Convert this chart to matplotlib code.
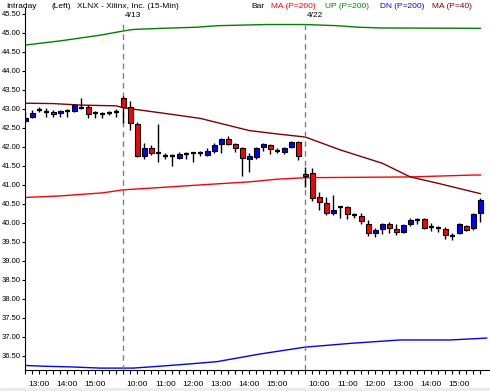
import numpy as np
import matplotlib.pyplot as plt
from matplotlib.patches import Rectangle

plt.rcParams['font.family'] = ['Liberation Sans', 'DejaVu Sans']

# 15-min bars, XLNX
opens = [42.68, 42.77, 42.95, 42.92, 42.92, 42.87, 42.94, 42.94, 43.02, 43.05,
         42.87, 42.86, 42.89, 42.91, 43.27, 43.03, 42.59, 41.76, 41.95, 41.82,
         41.75, 41.74, 41.71, 41.81, 41.82, 41.82, 41.79, 41.89, 42.07, 42.19,
         42.06, 41.97, 41.66, 41.73, 41.98, 42.04, 41.89, 41.86, 41.98, 42.11,
         41.28, 41.31, 40.66, 40.52, 40.24, 40.42, 40.42, 40.20, 40.17, 39.96,
         39.73, 39.82, 39.95, 39.82, 39.75, 39.95, 40.07, 40.09, 39.89, 39.86,
         39.83, 39.65, 39.72, 39.92, 39.85, 40.24]
highs = [42.92, 42.95, 43.05, 43.01, 42.96, 42.95, 43.00, 43.12, 43.28, 43.09,
         42.94, 42.92, 42.94, 43.00, 43.32, 43.20, 42.64, 42.09, 42.04, 42.59,
         41.82, 41.80, 41.86, 41.85, 41.84, 41.88, 41.95, 42.08, 42.23, 42.28,
         42.08, 42.00, 41.82, 41.99, 42.08, 42.07, 41.95, 41.98, 42.15, 42.14,
         41.47, 41.43, 40.81, 40.68, 40.72, 40.44, 40.43, 40.26, 40.24, 40.07,
         39.85, 39.99, 40.02, 39.95, 39.96, 40.11, 40.13, 40.11, 39.98, 39.92,
         39.89, 39.73, 39.98, 39.94, 40.25, 40.65]
lows = [42.64, 42.74, 42.90, 42.79, 42.79, 42.79, 42.79, 42.92, 42.98, 42.76,
        42.76, 42.74, 42.83, 42.79, 42.61, 42.44, 41.73, 41.67, 41.78, 41.58,
        41.67, 41.49, 41.66, 41.66, 41.58, 41.75, 41.76, 41.82, 41.82, 42.04,
        41.86, 41.22, 41.34, 41.68, 41.89, 41.80, 41.82, 41.80, 41.95, 41.64,
        40.93, 40.57, 40.33, 40.20, 40.20, 40.11, 40.08, 40.11, 39.95, 39.64,
        39.61, 39.71, 39.73, 39.67, 39.72, 39.91, 39.95, 39.84, 39.79, 39.76,
        39.58, 39.54, 39.69, 39.78, 39.81, 40.02]
closes = [42.76, 42.87, 42.95, 42.92, 42.85, 42.93, 42.94, 43.08, 43.02, 42.85,
          42.87, 42.86, 42.89, 42.91, 43.05, 42.61, 41.76, 41.95, 41.82, 41.82,
          41.75, 41.74, 41.81, 41.81, 41.82, 41.82, 41.88, 42.04, 42.20, 42.07,
          41.97, 41.69, 41.75, 41.95, 42.07, 41.93, 41.89, 41.95, 42.11, 41.76,
          41.23, 40.65, 40.53, 40.24, 40.33, 40.42, 40.22, 40.20, 40.05, 39.73,
          39.80, 39.96, 39.85, 39.76, 39.93, 40.07, 40.07, 39.86, 39.89, 39.86,
          39.67, 39.65, 39.95, 39.80, 40.22, 40.59]

# indicator lines (bar index, price)
ma40_x = [0, 4, 8, 13, 14, 20, 25, 32, 36, 40, 45, 51, 55, 59, 65]
ma40_y = [43.14, 43.13, 43.09, 43.07, 43.02, 42.87, 42.74, 42.42, 42.33, 42.25,
          41.91, 41.56, 41.20, 41.03, 40.76]
ma200_x = [0, 5, 11, 14, 20, 25, 32, 36, 40, 55, 64, 65]
ma200_y = [40.66, 40.70, 40.78, 40.86, 40.93, 40.99, 41.07, 41.14, 41.18, 41.20,
           41.25, 41.25]
up_x = [0, 5, 10.7, 14, 15.4, 19.5, 24.5, 27.5, 34.5, 39.9, 44.5, 47.5, 50.7, 65]
up_y = [44.67, 44.78, 44.93, 45.04, 45.08, 45.11, 45.14, 45.18, 45.21, 45.21,
        45.18, 45.14, 45.12, 45.11]
dn_x = [0, 2.5, 6.7, 10.7, 15.4, 18.5, 20.7, 23.5, 27.4, 33.5, 39.9, 46.4, 53.5,
        60.7, 65.9]
dn_y = [36.24, 36.22, 36.20, 36.17, 36.17, 36.21, 36.24, 36.28, 36.34, 36.54,
        36.72, 36.82, 36.91, 36.91, 36.96]

hour_ticks = [2, 6, 10, 16, 20, 24, 28, 32, 36, 42, 46, 50, 54, 58, 62]
hour_labels = ['13:00', '14:00', '15:00', '10:00', '11:00', '12:00', '13:00',
               '14:00', '15:00', '10:00', '11:00', '12:00', '13:00', '14:00',
               '15:00']
day_starts = [14, 40]
day_labels = ['4/13', '4/22']

fs = 6

fig = plt.figure(figsize=(4.9, 3.91), dpi=100)
ax = fig.add_axes([25 / 490, 21 / 391, 465 / 490, 362 / 391])

ax.plot(up_x, up_y, color='#008000', lw=1)
ax.plot(dn_x, dn_y, color='#0000ff', lw=1)
ax.plot(ma200_x, ma200_y, color='#ff0000', lw=1)
ax.plot(ma40_x, ma40_y, color='#800000', lw=1)

for d, lab in zip(day_starts, day_labels):
    ax.axvline(d, ymin=0, ymax=0.961, color='#808080', lw=1, ls=(0, (4, 3)))
    ax.text(d + 0.25, 0.979, lab, transform=ax.get_xaxis_transform(),
            fontsize=fs, va='center', ha='left')

idx = np.arange(len(opens))
ax.vlines(idx, lows, highs, color='black', lw=1, zorder=3)
for i in idx:
    o, c = opens[i], closes[i]
    if abs(c - o) < 0.005:
        ax.hlines(c, i - 0.33, i + 0.33, color='black', lw=1.6, zorder=4)
    else:
        col = '#0000ff' if c > o else '#ff0000'
        ax.bar(i, abs(c - o), bottom=min(o, c), width=0.65, color=col,
               edgecolor='black', lw=0.8, zorder=4)

ax.set_xlim(-0.04, 66.38)
ax.set_ylim(36.12, 45.645)

ax.set_yticks(np.arange(36.5, 45.51, 0.5))
ax.set_yticklabels(['%.2f' % v for v in np.arange(36.5, 45.51, 0.5)])
ax.set_xticks(hour_ticks)
ax.set_xticklabels(hour_labels)
ax.set_xticks(idx, minor=True)
ax.tick_params(axis='x', which='both', direction='out', length=3,
               width=0.8, labelsize=fs, pad=5)
ax.tick_params(axis='y', direction='out', length=2.5, width=0.8,
               labelsize=5.5, pad=0.5)

ax.spines['top'].set_visible(False)
ax.spines['right'].set_visible(False)

# header line
ty = 1 - 6 / 391
fig.text(6 / 490, ty, 'Intraday', fontsize=fs, va='center')
fig.text(51 / 490, ty, '(Left)', fontsize=fs, va='center')
fig.text(77 / 490, ty, 'XLNX - Xilinx, Inc. (15-Min)', fontsize=fs, va='center')
fig.text(251 / 490, ty, 'Bar', fontsize=fs, va='center')
fig.text(271 / 490, ty, 'MA (P=200)', fontsize=fs, va='center', color='#ff0000')
fig.text(325 / 490, ty, 'UP (P=200)', fontsize=fs, va='center', color='#008000')
fig.text(380 / 490, ty, 'DN (P=200)', fontsize=fs, va='center', color='#0000ff')
fig.text(432 / 490, ty, 'MA (P=40)', fontsize=fs, va='center', color='#800000')

fig.patches.append(Rectangle((0, 0), 1, 3 / 391, transform=fig.transFigure,
                             color='#ececec', zorder=0))

plt.savefig('out.png', dpi=100)
